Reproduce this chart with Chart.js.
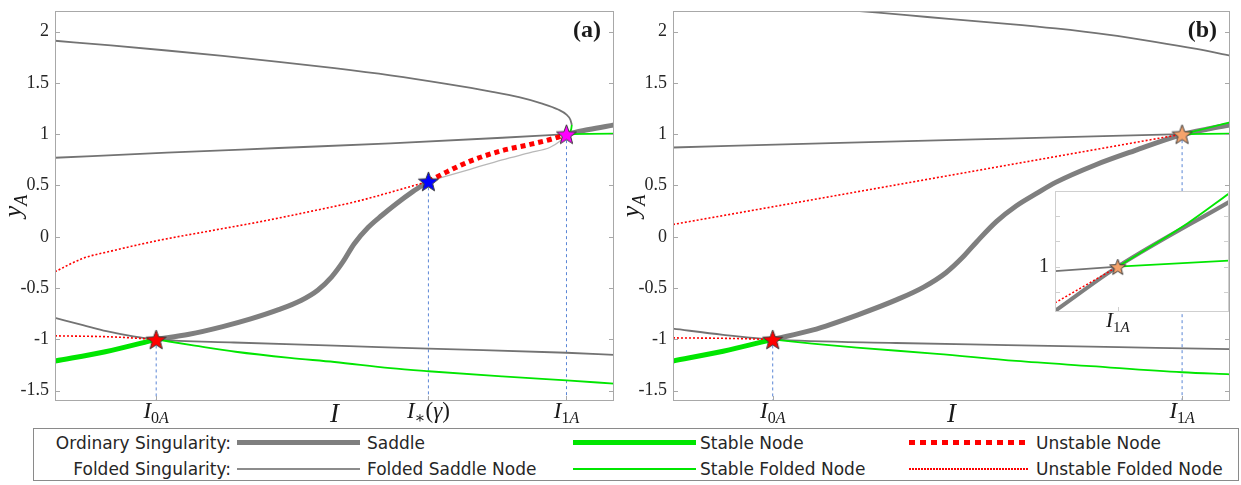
<!DOCTYPE html>
<html lang="en">
<head>
<meta charset="UTF-8" />
<title>Singularidades</title>
<style>
  body { margin: 0; background: #fff; width: 1241px; height: 485px; position: relative; overflow: hidden; }
  canvas { position: absolute; }
  #leyenda { position: absolute; left: 33px; top: 428px; width: 1204px; height: 51px; border: 1px solid #8a8a8a; font-family: "DejaVu Sans", sans-serif; }
  .txt { position: absolute; font-size: 17px; line-height: 20px; color: #262626; white-space: nowrap; }
  .linea { position: absolute; }
</style>
</head>
<body>
<canvas id="lienzoA" width="625" height="425" style="left:0;top:0"></canvas>
<canvas id="lienzoB" width="621" height="425" style="left:620px;top:0"></canvas>
<canvas id="lienzoC" width="215" height="165" style="left:1025px;top:180px"></canvas>
<div id="leyenda"></div>

<script src="https://cdn.jsdelivr.net/npm/chart.js"></script>
<script>
// ---------- datos ----------
const yMarcas = [-1.5, -1, -0.5, 0, 0.5, 1, 1.5, 2];

// panel (a)
const aEjeX = [1.81, 6.68, 9.15];
const aEtiquetas = ["I_0A", "I_*(γ)", "I_1A"];
const aSupI = [0, 1, 2, 3, 4, 5, 6, 7, 7.8, 8.3, 8.7, 9.0, 9.15, 9.22, 9.245];
const aSupY = [1.91, 1.865, 1.815, 1.762, 1.705, 1.643, 1.573, 1.49, 1.415, 1.36, 1.3, 1.24, 1.19, 1.14, 1.09];
const aPlegI = [9.15, 9.2, 9.235, 9.245];
const aPlegY = [1.0, 1.02, 1.05, 1.09];
const aClaroI = [6.68, 7.0, 7.44, 8.0, 8.5, 8.85, 9.03, 9.12, 9.15];
const aClaroY = [0.54, 0.59, 0.66, 0.75, 0.82, 0.87, 0.93, 0.98, 1.0];
const aInestI = [6.68, 7.0, 7.44, 8.0, 8.5, 8.9, 9.15];
const aInestY = [0.54, 0.63, 0.74, 0.84, 0.9, 0.955, 1.0];
const aMedI = [0, 2, 4, 6, 8, 9.15];
const aMedY = [0.77, 0.82, 0.865, 0.91, 0.965, 1.0];
const aSillaI = [1.81, 2.4, 3.0, 3.5, 4.0, 4.4, 4.7, 4.95, 5.15, 5.35, 5.6, 5.85, 6.1, 6.4, 6.68];
const aSillaY = [-1.0, -0.95, -0.875, -0.8, -0.71, -0.62, -0.52, -0.39, -0.245, -0.07, 0.09, 0.21, 0.32, 0.44, 0.54];
const aSillaDI = [9.15, 9.55, 10];
const aSillaDY = [1.0, 1.045, 1.09];
const aVerdeDI = [9.15, 10];
const aVerdeDY = [1.0, 1.005];
const aRojoFI = [0, 0.5, 1.0, 1.81, 2.8, 3.7, 4.64, 5.4, 6.04, 6.68];
const aRojoFY = [-0.34, -0.21, -0.14, -0.04, 0.06, 0.15, 0.255, 0.345, 0.44, 0.54];
const aInfI = [0, 0.5, 0.92, 1.4, 1.81, 3.2, 5.0, 6.68, 9.15, 10];
const aInfY = [-0.79, -0.86, -0.92, -0.97, -1.0, -1.03, -1.06, -1.09, -1.13, -1.15];
const aVerdeGI = [0, 0.9, 1.81];
const aVerdeGY = [-1.21, -1.12, -1.0];
const aRojoBI = [0, 1.0, 1.81];
const aRojoBY = [-0.965, -0.975, -1.0];
const aVerdeFI = [1.81, 2.5, 3.23, 4.2, 5.0, 6.0, 6.68, 8.0, 9.15, 10];
const aVerdeFY = [-1.0, -1.06, -1.12, -1.18, -1.22, -1.28, -1.31, -1.36, -1.4, -1.43];
const aEstrellas = [[1.81, -1.0], [6.68, 0.54], [9.15, 1.0]];

// panel (b)
const bEjeX = [1.79, 9.14];
const bEtiquetas = ["I_0A", "I_1A"];
const bSupI = [3.35, 4.2, 5.0, 6.0, 6.87, 7.8, 8.65, 9.4, 10];
const bSupY = [2.2, 2.16, 2.12, 2.075, 2.03, 1.97, 1.9, 1.83, 1.765];
const bMedI = [0, 3, 6, 9.14];
const bMedY = [0.87, 0.915, 0.957, 1.0];
const bSillaI = [1.79, 2.5, 3.32, 4.03, 4.5, 4.9, 5.2, 5.45, 5.81, 6.16, 6.52, 6.87, 7.58, 8.29, 9.14, 9.6, 10];
const bSillaY = [-1.0, -0.91, -0.76, -0.61, -0.49, -0.35, -0.2, -0.05, 0.15, 0.3, 0.42, 0.53, 0.7, 0.84, 0.995, 1.05, 1.09];
const bRojoFI = [0, 9.14];
const bRojoFY = [0.12, 1.0];
const bVerdeSI = [9.14, 9.6, 10];
const bVerdeSY = [1.0, 1.06, 1.115];
const bVerdeDI = [9.14, 10];
const bVerdeDY = [1.0, 1.005];
const bInfI = [0, 0.9, 1.79, 4, 6, 8, 10];
const bInfY = [-0.895, -0.955, -1.0, -1.035, -1.055, -1.075, -1.095];
const bVerdeGI = [0, 0.9, 1.79];
const bVerdeGY = [-1.21, -1.115, -1.0];
const bRojoBI = [0, 1.0, 1.79];
const bRojoBY = [-0.985, -0.99, -1.0];
const bVerdeFI = [1.79, 2.5, 3.3, 4.74, 6.16, 7.5, 9.14, 10];
const bVerdeFY = [-1.0, -1.04, -1.08, -1.14, -1.21, -1.26, -1.32, -1.34];
const bEstrellas = [[1.79, -1.0], [9.14, 1.0]];

// recuadro (zoom cerca de I1A)
const cEjeX = [9.14];
const cEtiquetas = ["I_1A"];
const cMarcasY = [0.95, 1, 1.05, 1.1];
const cSillaI = [8.9, 9.14, 9.565];
const cSillaY = [0.912, 1.0, 1.128];
const cVerdeSI = [9.14, 9.407, 9.565];
const cVerdeSY = [1.0, 1.086, 1.145];
const cVerdeDI = [9.14, 9.565];
const cVerdeDY = [1.0, 1.012];
const cGrisI = [8.9, 9.14];
const cGrisY = [0.991, 1.0];
const cRojoI = [8.9, 9.14];
const cRojoY = [0.928, 1.0];

// ---------- estilos ----------
const serif = '"Liberation Serif", "DejaVu Serif", serif';
const GRIS = "#7f7f7f", GRIS_F = "#737373", GRIS_C = "#b8b8b8";
const VERDE = "#00e600", ROJO = "#ff0000", AZUL = "#5b86d6";

function puntos(xs, ys) {
  return xs.map((x, i) => ({ x: x, y: ys[i] }));
}

// recta = true -> segmentos rectos; si no, spline monotona
function curva(xs, ys, color, ancho, guion, orden, recta) {
  return {
    data: puntos(xs, ys), showLine: true, borderColor: color, borderWidth: ancho,
    borderDash: guion || [], borderCapStyle: "butt", pointRadius: 0, pointHoverRadius: 0,
    tension: 0, cubicInterpolationMode: recta ? "default" : "monotone",
    order: orden, clip: 0, fill: false
  };
}

function hacerEstrella(color, radio) {
  const c = document.createElement("canvas");
  const t = Math.ceil(radio * 2 + 4);
  c.width = t; c.height = t;
  const g = c.getContext("2d");
  g.beginPath();
  for (let k = 0; k < 10; k++) {
    const r = k % 2 === 0 ? radio : radio * 0.42;
    const ang = -Math.PI / 2 + k * Math.PI / 5;
    g.lineTo(t / 2 + r * Math.cos(ang), t / 2 + 1 + r * Math.sin(ang));
  }
  g.closePath();
  g.fillStyle = color; g.fill();
  g.strokeStyle = "#3a3a3a"; g.lineWidth = 1; g.stroke();
  return c;
}

function estrella(p, img) {
  return { data: [{ x: p[0], y: p[1] }], pointStyle: img, pointRadius: 10, order: 0, clip: false, showLine: false };
}

function verticales(xs, desde, hasta) {
  return xs.map((x, i) => curva([x, x], [desde[i], hasta], AZUL, 1, [3, 3], 9, true));
}

// texto con subindice, p.ej. "I_0A" o "I_*(γ)"
function dibujarTexto(ctx, texto, x, y, tam) {
  const sub = Math.round(tam * 0.7);
  const piezas = [{ t: texto[0], f: "italic " + tam + "px " + serif, dy: 0 }];
  let i = 1;
  if (texto[1] === "_") {
    i = 2;
    while (i < texto.length && texto[i] !== "(") {
      const c = texto[i];
      piezas.push({ t: c === "*" ? "∗" : c, f: (/[A-Za-z]/.test(c) ? "italic " : "") + sub + "px " + serif, dy: tam * 0.22 });
      i++;
    }
  }
  for (; i < texto.length; i++) {
    const c = texto[i];
    piezas.push({ t: c, f: (/[A-Za-zα-ω]/.test(c) ? "italic " : "") + tam + "px " + serif, dy: 0 });
  }
  let total = 0;
  piezas.forEach(p => { ctx.font = p.f; p.w = ctx.measureText(p.t).width; total += p.w; });
  let cx = x - total / 2;
  ctx.textAlign = "left"; ctx.textBaseline = "alphabetic";
  piezas.forEach(p => { ctx.font = p.f; ctx.fillText(p.t, cx, y + p.dy); cx += p.w; });
}

const marco = {
  id: "marco",
  beforeDraw(chart, args, o) {
    if (!o.fondo) return;
    const a = chart.chartArea, ctx = chart.ctx;
    ctx.save(); ctx.fillStyle = "#fff";
    ctx.fillRect(a.left, a.top, a.right - a.left, a.bottom - a.top);
    ctx.restore();
  },
  afterDraw(chart, args, o) {
    const ctx = chart.ctx, a = chart.chartArea, sx = chart.scales.x, sy = chart.scales.y;
    ctx.save();
    ctx.strokeStyle = o.borde; ctx.lineWidth = 1;
    ctx.strokeRect(a.left + 0.5, a.top + 0.5, a.right - a.left - 1, a.bottom - a.top - 1);
    ctx.beginPath();
    o.yMarcas.forEach(v => {
      const py = Math.round(sy.getPixelForValue(v)) + 0.5;
      ctx.moveTo(a.left, py); ctx.lineTo(a.left + 5, py);
      ctx.moveTo(a.right, py); ctx.lineTo(a.right - 5, py);
    });
    o.xMarcas.forEach(v => {
      const px = Math.round(sx.getPixelForValue(v)) + 0.5;
      ctx.moveTo(px, a.bottom); ctx.lineTo(px, a.bottom - 5);
    });
    ctx.stroke();
    ctx.fillStyle = "#1a1a1a";
    o.xMarcas.forEach((v, i) => dibujarTexto(ctx, o.xEtiquetas[i], sx.getPixelForValue(v), a.bottom + o.bajaX, o.tamX));
    if (o.titulo) {
      ctx.font = "italic 27px " + serif; ctx.textAlign = "center"; ctx.textBaseline = "alphabetic";
      ctx.fillText(o.titulo, (a.left + a.right) / 2, a.bottom + 21);
    }
    if (o.yTitulo) {
      ctx.save();
      ctx.translate(a.left - 34, (a.top + a.bottom) / 2);
      ctx.rotate(-Math.PI / 2);
      dibujarTexto(ctx, o.yTitulo, 0, 0, 26);
      ctx.restore();
    }
    if (o.letra) {
      ctx.font = "bold 24px " + serif; ctx.textAlign = "right"; ctx.textBaseline = "alphabetic";
      ctx.fillText(o.letra, a.right - 13, a.top + 26);
    }
    ctx.restore();
  }
};

function crearPanel(id, conjuntos, aj) {
  return new Chart(document.getElementById(id), {
    type: "scatter",
    data: { datasets: conjuntos },
    options: {
      responsive: false, animation: false, events: [],
      layout: { padding: { top: aj.arriba, right: aj.derecha, left: 0, bottom: 0 } },
      plugins: { legend: { display: false }, tooltip: { enabled: false }, marco: aj },
      scales: {
        x: {
          type: "linear", min: aj.xmin, max: aj.xmax,
          grid: { display: false }, border: { display: false }, ticks: { display: false },
          afterFit: s => { s.height = aj.altoX; s.paddingLeft = 0; s.paddingRight = 0; }
        },
        y: {
          type: "linear", min: aj.ymin, max: aj.ymax,
          grid: { display: false, drawTicks: false }, border: { display: false },
          ticks: { font: { family: serif, size: aj.tamY }, color: "#262626", padding: 6, callback: aj.formato },
          afterBuildTicks: s => { s.ticks = aj.yMarcas.map(v => ({ value: v })); },
          afterFit: s => { s.width = aj.anchoY; s.paddingTop = 0; s.paddingBottom = 0; }
        }
      }
    },
    plugins: [marco]
  });
}

const estRoja = hacerEstrella("#ff0000", 10.5);
const estAzul = hacerEstrella("#0000ff", 10.5);
const estMagenta = hacerEstrella("#ff00ff", 10.5);
const estNaranja = hacerEstrella("#f5a36b", 10.5);
const estNaranjaC = hacerEstrella("#f5a36b", 8.5);

// panel (a)
crearPanel("lienzoA", [
  estrella(aEstrellas[0], estRoja),
  estrella(aEstrellas[1], estAzul),
  estrella(aEstrellas[2], estMagenta),
  curva(aInestI, aInestY, ROJO, 5, [5, 4], 1),
  curva(aRojoFI, aRojoFY, ROJO, 1.6, [2, 2], 2),
  curva(aRojoBI, aRojoBY, ROJO, 1.6, [2, 2], 2),
  curva(aPlegI, aPlegY, VERDE, 1.8, [], 2),
  curva(aVerdeDI, aVerdeDY, VERDE, 1.8, [], 2, true),
  curva(aVerdeFI, aVerdeFY, VERDE, 1.8, [], 2),
  curva(aVerdeGI, aVerdeGY, VERDE, 5, [], 3),
  curva(aSupI, aSupY, GRIS_F, 1.8, [], 4),
  curva(aMedI, aMedY, GRIS_F, 1.8, [], 4),
  curva(aInfI, aInfY, GRIS_F, 1.8, [], 4),
  curva(aClaroI, aClaroY, GRIS_C, 1.3, [], 4),
  curva(aSillaI, aSillaY, GRIS, 5, [], 5),
  curva(aSillaDI, aSillaDY, GRIS, 5, [], 5),
  ...verticales(aEjeX, [-1.0, 0.54, 1.0], -1.6)
], {
  xmin: 0, xmax: 10, ymin: -1.6, ymax: 2.2, yMarcas: yMarcas, formato: v => String(v),
  anchoY: 55, arriba: 3, derecha: 7, altoX: 24, tamY: 18,
  borde: "#a8a8a8", xMarcas: aEjeX, xEtiquetas: aEtiquetas, bajaX: 17, tamX: 23,
  titulo: "I", yTitulo: "y_A", letra: "(a)", fondo: false
});

// panel (b)
crearPanel("lienzoB", [
  estrella(bEstrellas[0], estRoja),
  estrella(bEstrellas[1], estNaranja),
  curva(bRojoFI, bRojoFY, ROJO, 1.6, [2, 2], 2, true),
  curva(bRojoBI, bRojoBY, ROJO, 1.6, [2, 2], 2),
  curva(bVerdeSI, bVerdeSY, VERDE, 1.8, [], 2),
  curva(bVerdeDI, bVerdeDY, VERDE, 1.8, [], 2, true),
  curva(bVerdeFI, bVerdeFY, VERDE, 1.8, [], 2),
  curva(bVerdeGI, bVerdeGY, VERDE, 5, [], 3),
  curva(bSupI, bSupY, GRIS_F, 1.8, [], 4),
  curva(bMedI, bMedY, GRIS_F, 1.8, [], 4),
  curva(bInfI, bInfY, GRIS_F, 1.8, [], 4),
  curva(bSillaI, bSillaY, GRIS, 5, [], 5),
  ...verticales(bEjeX, [-1.0, 1.0], -1.6)
], {
  xmin: 0, xmax: 10, ymin: -1.6, ymax: 2.2, yMarcas: yMarcas, formato: v => String(v),
  anchoY: 53, arriba: 3, derecha: 6, altoX: 24, tamY: 18,
  borde: "#a8a8a8", xMarcas: bEjeX, xEtiquetas: bEtiquetas, bajaX: 17, tamX: 23,
  titulo: "I", yTitulo: "y_A", letra: "(b)", fondo: false
});

// recuadro
crearPanel("lienzoC", [
  estrella([9.14, 1.0], estNaranjaC),
  curva(cRojoI, cRojoY, ROJO, 1.6, [2, 2], 2, true),
  curva(cVerdeSI, cVerdeSY, VERDE, 1.8, [], 2),
  curva(cVerdeDI, cVerdeDY, VERDE, 1.8, [], 2, true),
  curva(cGrisI, cGrisY, GRIS_F, 1.8, [], 4, true),
  curva(cSillaI, cSillaY, GRIS, 4, [], 5)
], {
  xmin: 8.9, xmax: 9.565, ymin: 0.91, ymax: 1.15, yMarcas: cMarcasY, formato: v => (v === 1 ? "1" : ""),
  anchoY: 30, arriba: 4, derecha: 8, altoX: 33, tamY: 20,
  borde: "#cfcfcf", xMarcas: cEjeX, xEtiquetas: cEtiquetas, bajaX: 15, tamX: 21,
  titulo: "", yTitulo: "", letra: "", fondo: true
});

// ---------- leyenda ----------
const leyendaGrupos = ["Ordinary Singularity:", "Folded Singularity:"];
const leyendaNombres = [
  ["Saddle", "Stable Node", "Unstable Node"],
  ["Folded Saddle Node", "Stable Folded Node", "Unstable Folded Node"]
];
const estilosLinea = [
  [
    { h: 5, bg: GRIS },
    { h: 5, bg: VERDE },
    { h: 5, bg: "repeating-linear-gradient(to right, #ff0000 0 6px, transparent 6px 11px)" }
  ],
  [
    { h: 2, bg: "#8c8c8c" },
    { h: 2, bg: VERDE },
    { h: 2, bg: "repeating-linear-gradient(to right, #ff0000 0 2px, transparent 2px 3px)" }
  ]
];
const colLinea = [203, 539, 875];
const colTexto = [333, 666, 1002];
const anchoLinea = [123, 123, 120];
const filaTexto = [4, 30];
const filaCentro = [13.7, 40.3];

const leyenda = document.getElementById("leyenda");
leyendaGrupos.forEach((g, f) => {
  const t = document.createElement("div");
  t.className = "txt";
  t.style.cssText = "left:0;width:197px;text-align:right;top:" + filaTexto[f] + "px";
  t.textContent = g;
  leyenda.appendChild(t);
  leyendaNombres[f].forEach((n, c) => {
    const e = estilosLinea[f][c];
    const l = document.createElement("div");
    l.className = "linea";
    l.style.cssText = "left:" + colLinea[c] + "px;width:" + anchoLinea[c] + "px;height:" + e.h +
      "px;top:" + (filaCentro[f] - e.h / 2) + "px;background:" + e.bg;
    leyenda.appendChild(l);
    const s = document.createElement("div");
    s.className = "txt";
    s.style.cssText = "left:" + colTexto[c] + "px;top:" + filaTexto[f] + "px";
    s.textContent = n;
    leyenda.appendChild(s);
  });
});
</script>
</body>
</html>
